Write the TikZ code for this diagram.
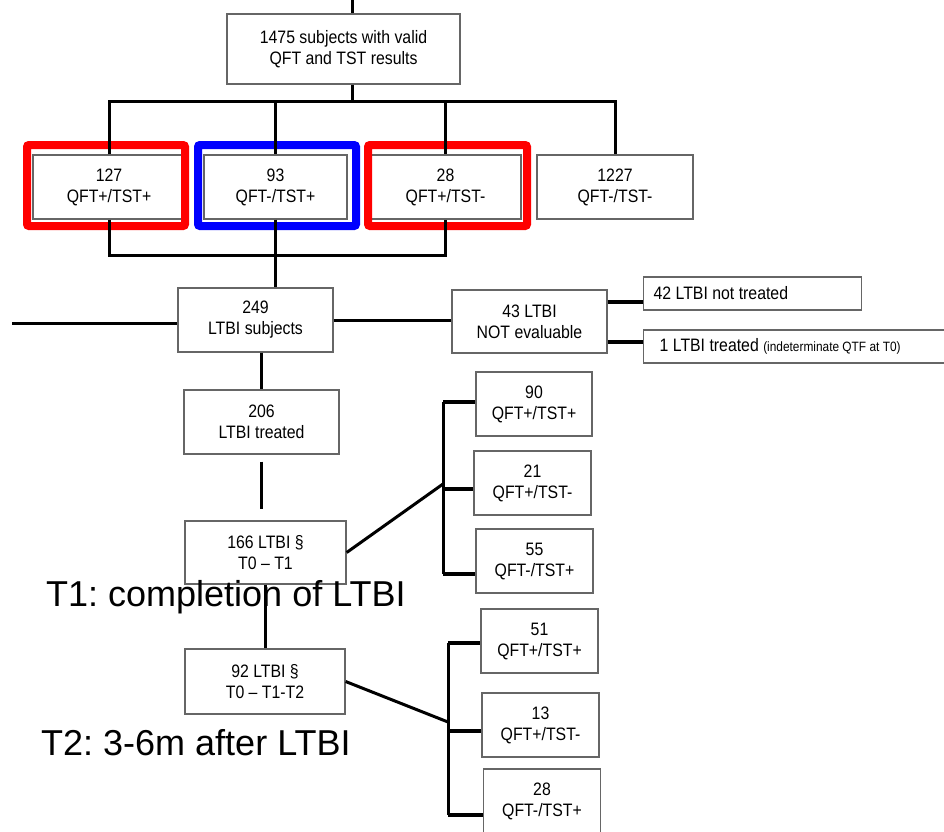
\documentclass[tikz,border=0pt]{standalone}
\usepackage{fontspec}
\setmainfont{Liberation Sans}
\newfontfamily\boxfont[FakeStretch=0.88]{Liberation Sans}
\usetikzlibrary{calc}

\begin{document}
\frenchspacing
\begin{tikzpicture}[x=1pt,y=-1pt,line join=miter,
  main node/.style={draw=black!60,line width=1.3pt,align=center,inner sep=0pt,font=\boxfont\fontsize{18}{21}\selectfont},
  side node/.style={draw=black!60,line width=1.3pt,anchor=west,inner ysep=0pt,minimum height=33pt,font=\boxfont\fontsize{18}{21}\selectfont},
  link/.style={line width=3pt},
  stub/.style={line width=4.5pt},
  mark box/.style={line width=8pt,rounded corners=2pt},
  note/.style={anchor=base west,inner sep=0pt,font=\fontsize{36}{40}\selectfont}]

  \useasboundingbox (0,0) rectangle (944,831);
  \fill[white] (0,0) rectangle (944,831);

  % screening
  \node[main node,minimum width=233pt,minimum height=70pt] (1) at (343.5,49) {1475 subjects with valid\\QFT and TST results};
  \node[main node,minimum width=152pt,minimum height=64pt] (2) at (109,187) {127\\QFT+/TST+};
  \node[main node,minimum width=143pt,minimum height=64pt] (3) at (275.5,187) {93\\QFT-/TST+};
  \node[main node,minimum width=151pt,minimum height=64pt] (4) at (445.5,187) {28\\QFT+/TST-};
  \node[main node,minimum width=156pt,minimum height=64pt] (5) at (615,187) {1227\\QFT-/TST-};

  \draw[mark box,red] (27,145) rectangle (185,226);
  \draw[mark box,blue] (198,145) rectangle (356,226);
  \draw[mark box,red] (368,145) rectangle (527,226);

  % LTBI
  \node[main node,minimum width=155pt,minimum height=64pt] (6) at (255.5,320) {249\\LTBI subjects};
  \node[main node,minimum width=155pt,minimum height=63pt] (7) at (529.5,321.5) {43 LTBI\\NOT evaluable};
  \node[side node,inner xsep=10pt] (8) at (643,293.5) {\makebox[198pt][l]{42 LTBI not treated}};
  \node[side node,inner xsep=16pt] (9) at (643,346.5) {\makebox[275pt][l]{1 LTBI treated {\fontsize{13.5}{15}\selectfont (indeterminate QTF at T0)}}};
  \node[main node,minimum width=155pt,minimum height=64pt] (10) at (261.5,422) {206\\LTBI treated};
  \node[main node,minimum width=161pt,minimum height=63pt] (11) at (265.5,552.5) {166 LTBI §\\T0 – T1};
  \node[main node,minimum width=160pt,minimum height=65pt] (12) at (265,681.5) {92 LTBI §\\T0 – T1-T2};

  % follow-up results
  \node[main node,minimum width=116pt,minimum height=64pt] (13) at (534,404) {90\\QFT+/TST+};
  \node[main node,minimum width=117pt,minimum height=64pt] (14) at (532.5,483) {21\\QFT+/TST-};
  \node[main node,minimum width=117pt,minimum height=64pt] (15) at (534.5,561) {55\\QFT-/TST+};
  \node[main node,minimum width=117pt,minimum height=64pt] (16) at (539.5,641) {51\\QFT+/TST+};
  \node[main node,minimum width=117pt,minimum height=64pt] (17) at (540.5,725) {13\\QFT+/TST-};
  \node[main node,minimum width=117pt,minimum height=64pt] (18) at (542,801) {28\\QFT-/TST+};

  \node[note] (19) at (46,606) {T1: completion of LTBI};
  \node[note] (20) at (41,755) {T2: 3-6m after LTBI};

  \coordinate (top) at (352,0);
  \coordinate (split) at (352,101);
  \coordinate (merge) at (280,255);
  \coordinate (lft) at (12,323);
  \coordinate (j1) at (443,484);
  \coordinate (j2) at (448,722);

  \draw[link] (top) -- (top |- 1.north);
  \draw[link] (1.south -| split) -- (split);
  \draw[link] (2.north) -- (2.north |- split) -- (5.north |- split) -- (5.north);
  \foreach \n in {3,4}
    \draw[link] (\n.north |- split) -- (\n.north);

  \draw[link] (2.south) -- (2.south |- merge) -- (4.south |- merge) -- (4.south);
  \draw[link] (3.south) -- (3.south |- 6.north);

  \draw[link] (lft) -- (lft -| 6.west);
  \draw[link] (6.east) -- (6.east -| 7.west);
  \draw[stub] (7.east |- 0,302) -- (8.west |- 0,302);
  \draw[stub] (7.east |- 0,342) -- (9.west |- 0,342);

  \draw[link] (10.north |- 6.south) -- (10.north);
  \draw[link,shorten <=7pt,shorten >=11pt] (10.south) -- (10.south |- 11.north);
  \draw[link] (11.south) -- (11.south |- 12.north);

  \draw[link] (11.east) -- (j1);
  \draw[link] (j1 |- 0,402) -- (j1 |- 0,574);
  \foreach \n/\y in {13/402,14/489,15/574}
    \draw[stub] (j1 |- 0,\y) -- (\n.west |- 0,\y);

  \draw[link] (12.east) -- (j2);
  \draw[link] (j2 |- 0,643) -- (j2 |- 0,815);
  \foreach \n/\y in {16/643,17/731,18/815}
    \draw[stub] (j2 |- 0,\y) -- (\n.west |- 0,\y);
\end{tikzpicture}
\end{document}
